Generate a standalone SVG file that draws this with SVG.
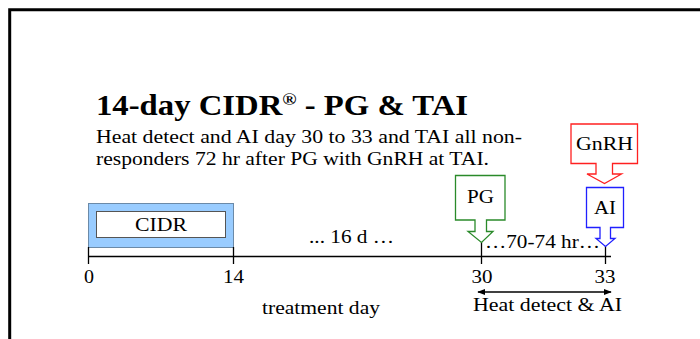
<svg xmlns="http://www.w3.org/2000/svg" width="700" height="339" viewBox="0 0 700 339">
<defs>
<style>
text{font-family:"Liberation Serif","Times New Roman",serif;fill:#000}
.t{font-size:18px}
.l{font-size:19px}
.c{text-anchor:middle}
.tl{stroke:#000;stroke-width:1.3;fill:none}
</style>
<marker id="ah" viewBox="0 0 10 10" refX="9" refY="5" markerWidth="8" markerHeight="8" markerUnits="userSpaceOnUse" orient="auto-start-reverse">
<path d="M0,1 L10,5 L0,9 z" fill="#000"/>
</marker>
</defs>
<rect x="0" y="0" width="700" height="339" fill="#fff"/>
<path d="M9.7,339 V9.7 H700" fill="none" stroke="#000" stroke-width="3"/>
<g id="title">
<text x="96" y="115" style="font-size:29px;font-weight:bold" textLength="372" lengthAdjust="spacingAndGlyphs">14-day CIDR<tspan dy="-10" style="font-size:17px">®</tspan><tspan dy="10"> - PG &amp; TAI</tspan></text>
</g>
<g id="description">
<text class="t" x="96" y="143" textLength="426" lengthAdjust="spacingAndGlyphs">Heat detect and AI day 30 to 33 and TAI all non-</text>
<text class="t" x="96" y="165" textLength="393" lengthAdjust="spacingAndGlyphs">responders 72 hr after PG with GnRH at TAI.</text>
</g>
<g id="cidr">
<rect x="88.5" y="203.5" width="145" height="44" fill="#99ccff" stroke="#6b8aa8" stroke-width="1"/>
<rect x="96.5" y="211.5" width="129" height="26" fill="#fff" stroke="#555" stroke-width="1"/>
<text class="l c" x="161" y="231" textLength="52" lengthAdjust="spacingAndGlyphs">CIDR</text>
</g>
<g id="connectors">
<line class="tl" x1="88" y1="256.5" x2="611" y2="256.5"/>
<line class="tl" x1="88.5" y1="247" x2="88.5" y2="264"/>
<line class="tl" x1="233.5" y1="247" x2="233.5" y2="264"/>
<line class="tl" x1="481.5" y1="242" x2="481.5" y2="264"/>
<line class="tl" x1="605.5" y1="246" x2="605.5" y2="264"/>
<line x1="478" y1="292" x2="611" y2="292" stroke="#000" stroke-width="1.5" marker-start="url(#ah)" marker-end="url(#ah)"/>
</g>
<g id="axis-labels">
<text class="l c" x="89" y="283" textLength="10" lengthAdjust="spacingAndGlyphs">0</text>
<text class="l c" x="233.5" y="283" textLength="21" lengthAdjust="spacingAndGlyphs">14</text>
<text class="l c" x="482" y="283" textLength="21" lengthAdjust="spacingAndGlyphs">30</text>
<text class="l c" x="605" y="283" textLength="21" lengthAdjust="spacingAndGlyphs">33</text>
<text class="l c" x="351.5" y="243" textLength="85" lengthAdjust="spacingAndGlyphs">... 16 d …</text>
<text class="l" x="485" y="248" textLength="115" lengthAdjust="spacingAndGlyphs">…70-74 hr…</text>
<text class="l c" x="321" y="314" textLength="118" lengthAdjust="spacingAndGlyphs">treatment day</text>
<text class="l c" x="547.5" y="311" textLength="149" lengthAdjust="spacingAndGlyphs">Heat detect &amp; AI</text>
</g>
<g id="pg">
<path d="M455.5,175.5 H505 V220 H486.5 V231.5 H493 L481.5,242.5 L468,231.5 H475 V220 H455.5 Z" fill="#fff" stroke="#2a8a2a" stroke-width="1.3"/>
<text class="l c" x="480.5" y="203" textLength="27" lengthAdjust="spacingAndGlyphs">PG</text>
</g>
<g id="gnrh">
<path d="M571,124 H637.5 V163.5 H612.5 V174 H621.5 L604.5,183.5 L587,174 H596 V163.5 H571 Z" fill="#fff" stroke="#ff2020" stroke-width="1.3"/>
<text class="l c" x="604.5" y="150" textLength="57" lengthAdjust="spacingAndGlyphs">GnRH</text>
</g>
<g id="ai">
<path d="M586.5,187.5 H623.5 V227.5 H610.5 V238.5 H615 L605.5,246.5 L596,238.5 H600 V227.5 H586.5 Z" fill="#fff" stroke="#2020ff" stroke-width="1.3"/>
<text class="l c" x="605" y="214" textLength="22" lengthAdjust="spacingAndGlyphs">AI</text>
</g>
</svg>
